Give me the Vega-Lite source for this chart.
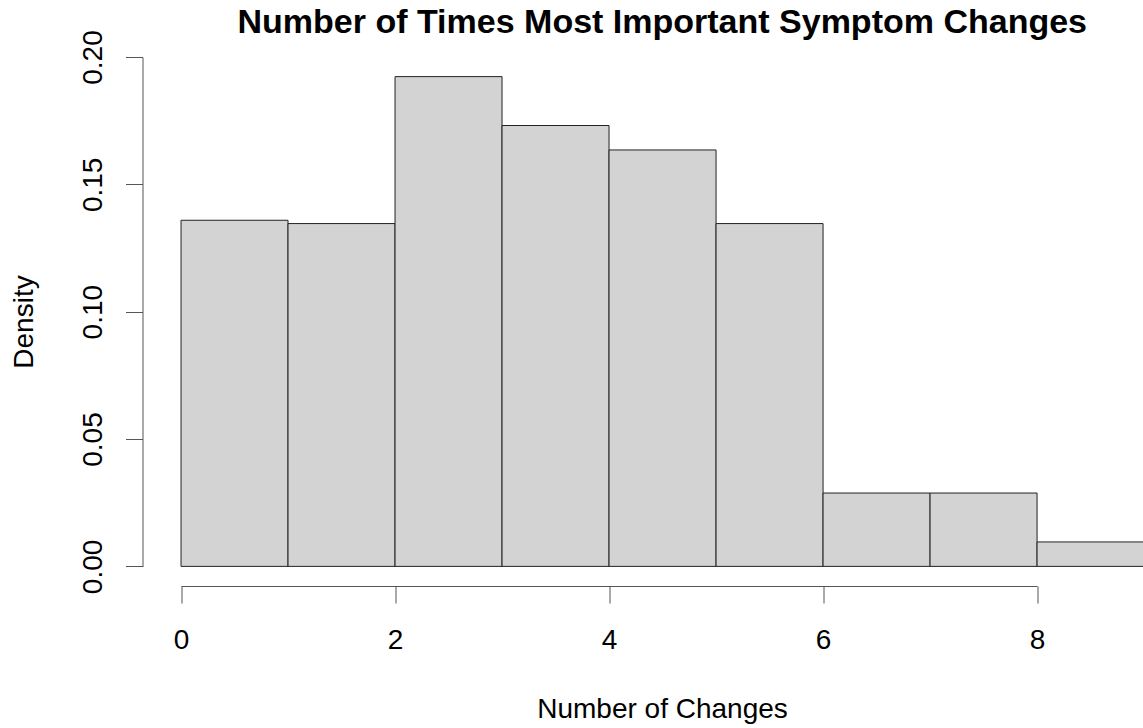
{
  "$schema": "https://vega.github.io/schema/vega-lite/v6.json",
  "width": 1000.5,
  "height": 529,
  "autosize": {"type": "none"},
  "padding": {"left": 142.5, "top": 57, "right": 0, "bottom": 142},
  "background": "white",
  "title": {
    "text": "Number of Times Most Important Symptom Changes",
    "font": "Liberation Sans",
    "fontSize": 34,
    "fontWeight": "bold",
    "color": "black",
    "anchor": "middle",
    "frame": "group",
    "baseline": "alphabetic",
    "offset": -37,
    "dx": 19.5
  },
  "data": {
    "values": [
      {"bin_start": 0, "bin_end": 1, "density": 0.1359},
      {"bin_start": 1, "bin_end": 2, "density": 0.1346},
      {"bin_start": 2, "bin_end": 3, "density": 0.1923},
      {"bin_start": 3, "bin_end": 4, "density": 0.1731},
      {"bin_start": 4, "bin_end": 5, "density": 0.1635},
      {"bin_start": 5, "bin_end": 6, "density": 0.1346},
      {"bin_start": 6, "bin_end": 7, "density": 0.0288},
      {"bin_start": 7, "bin_end": 8, "density": 0.0288},
      {"bin_start": 8, "bin_end": 9, "density": 0.0096}
    ]
  },
  "mark": {"type": "rect", "fill": "#D3D3D3", "stroke": "#222222", "strokeWidth": 1, "clip": true},
  "encoding": {
    "x": {
      "field": "bin_start",
      "type": "quantitative",
      "scale": {"domain": [-0.36, 8.99], "nice": false, "zero": false},
      "axis": {
        "values": [0, 2, 4, 6, 8],
        "format": "d",
        "grid": false,
        "domain": true,
        "domainColor": "#555555",
        "domainWidth": 1,
        "domainDash": [0, 38.5, 856, 3000],
        "ticks": true,
        "tickColor": "#555555",
        "tickWidth": 1,
        "tickSize": 17,
        "labelFont": "Liberation Sans",
        "labelFontSize": 28,
        "labelColor": "black",
        "labelPadding": 23,
        "labelBaseline": "top",
        "labelFlush": false,
        "labelOverlap": false,
        "title": "Number of Changes",
        "titleFont": "Liberation Sans",
        "titleFontSize": 28,
        "titleFontWeight": "normal",
        "titleColor": "black",
        "titleAlign": "center",
        "titleBaseline": "alphabetic",
        "titleX": 519.5,
        "titleY": 131.3
      }
    },
    "x2": {"field": "bin_end"},
    "y": {
      "field": "density",
      "type": "quantitative",
      "scale": {"domain": [-0.0077, 0.2], "nice": false, "zero": false},
      "axis": {
        "values": [0, 0.05, 0.1, 0.15, 0.2],
        "format": ".2f",
        "grid": false,
        "domain": true,
        "domainColor": "#555555",
        "domainWidth": 1,
        "domainDash": [0, 19.5, 509.5, 3000],
        "ticks": true,
        "tickColor": "#555555",
        "tickWidth": 1,
        "tickSize": 17,
        "labelFont": "Liberation Sans",
        "labelFontSize": 28,
        "labelColor": "black",
        "labelAngle": 270,
        "labelAlign": "center",
        "labelBaseline": "alphabetic",
        "labelPadding": 24,
        "labelFlush": false,
        "labelOverlap": false,
        "title": "Density",
        "titleFont": "Liberation Sans",
        "titleFontSize": 28,
        "titleFontWeight": "normal",
        "titleColor": "black",
        "titleAngle": 270,
        "titleAlign": "center",
        "titleBaseline": "alphabetic",
        "titleX": -110.5,
        "titleY": 264.5
      }
    },
    "y2": {"datum": 0}
  },
  "config": {"view": {"stroke": null}}
}
